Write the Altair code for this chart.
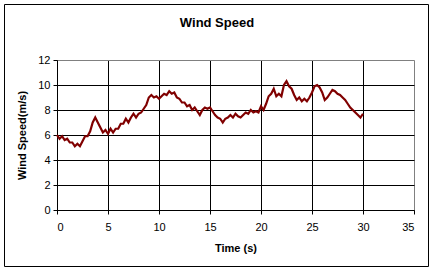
import altair as alt
import pandas as pd

times = [i * 0.25 for i in range(121)]
speeds = [
    6.0, 5.7, 5.9, 5.6, 5.7, 5.4, 5.4, 5.1, 5.3, 5.1,
    5.5, 5.9, 5.9, 6.3, 7.0, 7.4, 7.0, 6.6, 6.2, 6.4,
    6.1, 6.5, 6.2, 6.5, 6.5, 6.9, 6.9, 7.3, 7.0, 7.4,
    7.7, 7.4, 7.7, 7.8, 8.1, 8.4, 9.0, 9.2, 9.0, 9.1,
    8.9, 9.1, 9.3, 9.2, 9.5, 9.3, 9.4, 9.0, 8.9, 8.6,
    8.6, 8.3, 8.4, 8.0, 8.2, 7.9, 7.6, 8.0, 8.2, 8.1,
    8.2, 7.9, 7.6, 7.4, 7.3, 7.0, 7.3, 7.4, 7.6, 7.4,
    7.7, 7.5, 7.4, 7.6, 7.8, 7.7, 8.0, 7.8, 7.9, 7.8,
    8.3, 8.0, 8.5, 9.1, 9.3, 9.7, 9.1, 9.3, 9.1, 10.0,
    10.3, 9.9, 9.7, 9.2, 8.8, 9.0, 8.7, 8.9, 8.7, 9.0,
    9.4, 9.9, 10.0, 9.8, 9.4, 8.8, 9.0, 9.3, 9.6, 9.5,
    9.3, 9.2, 9.0, 8.8, 8.5, 8.2, 8.0, 7.8, 7.6, 7.4,
    7.7,
]
x_ticks = [0, 5, 10, 15, 20, 25, 30, 35]
y_ticks = [0, 2, 4, 6, 8, 10, 12]
title_text = "Wind Speed"

df = pd.DataFrame({"t": times, "v": speeds})
FONT = "Liberation Sans"

line = alt.Chart(df).mark_line(color="#800000", strokeWidth=2.2).encode(
    x=alt.X(
        "t:Q",
        scale=alt.Scale(domain=[0, 35], nice=False, zero=False),
        axis=alt.Axis(
            values=x_ticks, title="Time (s)", grid=True,
            gridColor={"condition": {"test": "datum.value === 35", "value": "#808080"}, "value": "black"},
            gridOpacity=1, domainColor="black", tickColor="black", tickSize=4,
            labelPadding=7, titlePadding=10, labelFontSize=11, titleFontSize=11,
        ),
    ),
    y=alt.Y(
        "v:Q",
        scale=alt.Scale(domain=[0, 12], nice=False),
        axis=alt.Axis(
            values=y_ticks, title="Wind Speed(m/s)", grid=True,
            gridColor={"condition": {"test": "datum.value === 12", "value": "#808080"}, "value": "black"},
            gridOpacity=1, domainColor="black", tickColor="black", tickSize=4,
            labelPadding=3, titlePadding=10, labelFontSize=11, titleFontSize=11,
        ),
    ),
)

one = pd.DataFrame({"a": [0]})

border = alt.Chart(one).mark_rect(
    fill=None, stroke="black", strokeWidth=1, clip=False
).encode(
    x=alt.value(-52.5), x2=alt.value(371.5), y=alt.value(-55.5), y2=alt.value(206.5)
)

title = alt.Chart(one).mark_text(
    text=title_text, font=FONT, fontSize=13, fontWeight="bold", color="black",
    align="center", baseline="alphabetic", clip=False
).encode(x=alt.value(160), y=alt.value(-33))

chart = alt.layer(line, border, title).properties(
    width=357, height=150,
    padding={"left": 57, "top": 60, "right": 21, "bottom": 61},
    autosize=alt.AutoSizeParams(type="none"),
).configure_view(
    fill="#C0C0C0", stroke="#808080", strokeWidth=1
).configure_axis(
    labelFont=FONT, titleFont=FONT, labelColor="black", titleColor="black",
    titleFontWeight="bold", domainWidth=1, gridWidth=1, tickWidth=1
).configure(background="white")

chart.save("out.html", embed_options={"renderer": "svg", "actions": False})
